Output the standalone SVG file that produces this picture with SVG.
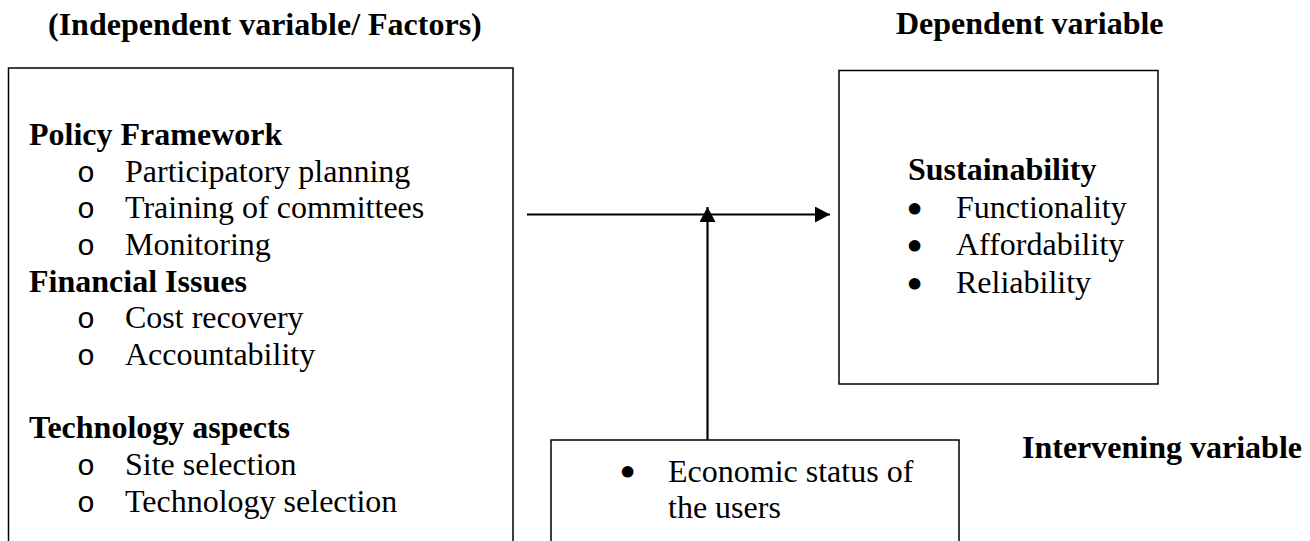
<svg xmlns="http://www.w3.org/2000/svg" width="1310" height="541" viewBox="0 0 1310 541">
<style>
text{font-family:"Liberation Serif","Times New Roman",serif;font-size:32px;fill:#000}
.b{font-weight:bold}
.o{font-family:"Liberation Mono","Courier New",monospace;font-size:30px}
.d{stroke:#000;stroke-width:4;stroke-linejoin:round}
.box{fill:#fff;stroke:#000;stroke-width:1.5}
.ln{stroke:#000;stroke-width:2.2;fill:none}
</style>
<defs>
<marker id="ah" viewBox="0 0 15 16" refX="15" refY="8" markerWidth="15" markerHeight="16" markerUnits="userSpaceOnUse" orient="auto">
<path d="M0,0 L15,8 L0,16 Z" fill="#000"/>
</marker>
</defs>
<g id="labels">
<text class="b" x="48" y="35">(Independent variable/ Factors)</text>
<text class="b" x="896" y="34">Dependent variable</text>
<text class="b" x="1022" y="458">Intervening variable</text>
</g>
<g id="independent">
<rect class="box" x="8.5" y="68" width="504.5" height="490"/>
<text class="b" x="29" y="145">Policy Framework</text>
<text class="o" x="77" y="182">o</text><text x="125" y="182">Participatory planning</text>
<text class="o" x="77" y="218">o</text><text x="125" y="218">Training of committees</text>
<text class="o" x="77" y="255">o</text><text x="125" y="255">Monitoring</text>
<text class="b" x="29" y="292">Financial Issues</text>
<text class="o" x="77" y="328">o</text><text x="125" y="328">Cost recovery</text>
<text class="o" x="77" y="365">o</text><text x="125" y="365">Accountability</text>
<text class="b" x="29" y="438">Technology aspects</text>
<text class="o" x="77" y="475">o</text><text x="125" y="475">Site selection</text>
<text class="o" x="77" y="512">o</text><text x="125" y="512">Technology selection</text>
</g>
<g id="dependent">
<rect class="box" x="839" y="70.5" width="319" height="313.5"/>
<text class="b" x="908" y="180">Sustainability</text>
<text class="d" x="909" y="220">•</text><text x="956" y="218">Functionality</text>
<text class="d" x="909" y="257">•</text><text x="956" y="255">Affordability</text>
<text class="d" x="909" y="295">•</text><text x="956" y="293">Reliability</text>
</g>
<g id="intervening">
<rect class="box" x="551" y="440" width="408" height="120"/>
<text class="d" x="622" y="483">•</text><text x="668" y="482">Economic status of</text>
<text x="668" y="518">the users</text>
</g>
<g id="connectors">
<line class="ln" x1="527" y1="214.5" x2="830" y2="214.5" marker-end="url(#ah)"/>
<line class="ln" x1="707.5" y1="440" x2="707.5" y2="207" marker-end="url(#ah)"/>
</g>
</svg>
